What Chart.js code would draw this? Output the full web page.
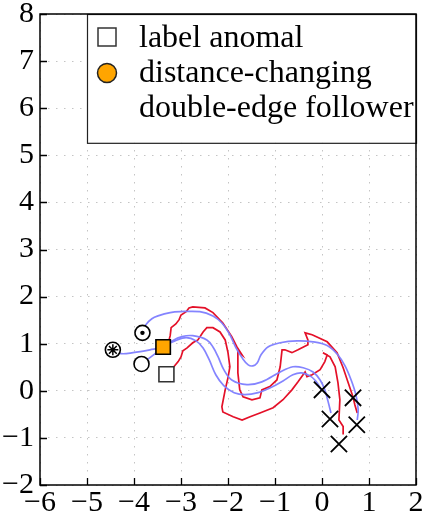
<!DOCTYPE html>
<html>
<head>
<meta charset="utf-8">
<script src="https://cdn.jsdelivr.net/npm/chart.js@4.4.1/dist/chart.umd.min.js"></script>
<style>
  html, body { margin: 0; padding: 0; background: #fff; overflow: hidden; }
  #wrap { width: 425px; height: 517px; position: relative; }
</style>
</head>
<body>
<div id="wrap"><canvas id="c"></canvas></div>
<script>
// ---- data ----
const xTicks = [-6, -5, -4, -3, -2, -1, 0, 1, 2];
const yTicks = [-2, -1, 0, 1, 2, 3, 4, 5, 6, 7, 8];

const blueTopX = [-3.82,-3.75,-3.62,-3.49,-3.23,-3.02,-2.60,-2.32,-2.13,-1.96,-1.83,-1.70,-1.57,-1.47,-1.38,-1.30,-1.15,-0.89,-0.53,-0.19,0.11,0.34,0.49,0.62,0.72,0.77,0.75];
const blueTopY = [1.23,1.40,1.53,1.59,1.66,1.68,1.68,1.59,1.44,1.19,0.91,0.70,0.55,0.53,0.59,0.76,0.93,1.02,1.06,1.04,0.96,0.76,0.53,0.23,-0.08,-0.40,-0.62];

const blueMidX = [-4.45,-4.28,-4.02,-3.66,-3.38,-3.19,-2.98,-2.75,-2.45,-2.32,-2.21,-2.09,-1.92,-1.60,-1.28,-0.89,-0.62,-0.40,-0.19,-0.04,0.06,0.13,0.19];
const blueMidY = [0.87,0.79,0.81,0.87,0.93,1.06,1.15,1.17,1.08,0.93,0.72,0.45,0.23,0.13,0.19,0.40,0.51,0.49,0.40,0.23,0.02,-0.23,-0.47];

const blueLowX = [-3.84,-3.55,-3.34,-3.13,-2.89,-2.68,-2.53,-2.40,-2.26,-2.09,-1.87,-1.64,-1.36,-1.11,-0.83,-0.62,-0.43,-0.23,-0.09,-0.02];
const blueLowY = [0.57,0.79,0.96,1.06,1.13,1.06,0.91,0.66,0.34,0.11,-0.04,-0.08,-0.04,0.06,0.21,0.34,0.38,0.30,0.15,0.02];

const redOuterX = [-3.28,-3.23,-3.21,-3.11,-3.04,-3.00,-2.89,-2.83,-2.75,-2.49,-2.32,-2.11,-1.92,-1.81,-1.70,-1.79,-1.79,-1.75,-1.68,-1.49,-1.32,-1.28,-1.11,-0.96,-0.89,-0.85,-0.79,-0.64,-0.51,-0.30,-0.30,-0.36,-0.21,0.11,0.32,0.45,0.55,0.66,0.70,0.75];
const redOuterY = [0.98,1.17,1.34,1.42,1.51,1.61,1.68,1.76,1.78,1.76,1.66,1.44,1.15,0.93,0.76,0.83,0.38,0.02,-0.13,-0.19,-0.15,0.02,0.09,0.23,0.51,0.87,0.87,0.81,0.87,0.98,1.08,1.23,1.19,1.04,0.81,0.49,0.19,-0.13,-0.30,-0.47];

const redInnerX = [-3.17,-3.06,-3.00,-2.96,-2.87,-2.75,-2.64,-2.53,-2.45,-2.32,-2.17,-2.06,-2.00,-1.96,-2.00,-2.06,-2.13,-2.11,-1.89,-1.70,-1.53,-1.32,-1.04,-0.83,-0.64,-0.51,-0.36,-0.32,-0.21,-0.04,0.06,0.11,0.02,0.17,0.28,0.34,0.38,0.36,0.45,0.45];
const redInnerY = [0.49,0.62,0.72,0.85,0.91,1.02,1.08,1.25,1.34,1.34,1.25,1.08,0.81,0.51,0.28,0.02,-0.34,-0.45,-0.55,-0.62,-0.55,-0.47,-0.36,-0.19,0.02,0.19,0.40,0.30,0.34,0.45,0.62,0.76,0.81,0.72,0.51,0.17,-0.19,-0.62,-0.76,-0.93];

const starCircle = { x: -4.45, y: 0.87 };
const dotCircle  = { x: -3.82, y: 1.23 };
const openCircle = { x: -3.84, y: 0.57 };
const orangeSquare = { x: -3.38, y: 0.93 };
const whiteSquare  = { x: -3.31, y: 0.35 };
const crossX = [0.00, 0.17, 0.66, 0.74, 0.36];
const crossY = [0.02, -0.60, -0.15, -0.72, -1.13];

const legendLabels = ['label anomal', 'distance-changing', 'double-edge follower'];
const legendBox = { x0: -5, x1: 2, y0: 8, y1: 5.265 };

// ---- helpers ----
const pts = (xs, ys) => xs.map((x, i) => ({ x: x, y: ys[i] }));
const BLUE = 'rgba(125,125,255,0.95)';
const RED = 'rgb(228,16,40)';
const SERIF = '"Liberation Serif"';
const fmt = v => (v < 0 ? '\u2212' + Math.abs(v) : String(v));

const lineDs = (xs, ys, color, tension) => ({
  type: 'line', data: pts(xs, ys), borderColor: color, borderWidth: 1.7,
  pointRadius: 0, pointHoverRadius: 0, fill: false, tension: tension, order: 2
});

const framePlugin = {
  id: 'frame',
  afterDatasetsDraw(chart) {
    const { ctx, chartArea: a, scales } = chart;
    ctx.save();
    ctx.strokeStyle = '#000';
    ctx.lineWidth = 1.3;
    ctx.beginPath();
    xTicks.forEach(v => {
      const px = Math.round(scales.x.getPixelForValue(v)) + 0.5;
      ctx.moveTo(px, a.bottom); ctx.lineTo(px, a.bottom - 7);
    });
    yTicks.forEach(v => {
      const py = Math.round(scales.y.getPixelForValue(v)) + 0.5;
      ctx.moveTo(a.left, py); ctx.lineTo(a.left + 7, py);
    });
    ctx.stroke();

    const lx0 = scales.x.getPixelForValue(legendBox.x0);
    const lx1 = scales.x.getPixelForValue(legendBox.x1);
    const ly0 = scales.y.getPixelForValue(legendBox.y0);
    const ly1 = scales.y.getPixelForValue(legendBox.y1);
    ctx.fillStyle = '#fff';
    ctx.fillRect(lx0, ly0, lx1 - lx0, ly1 - ly0);
    ctx.lineWidth = 1.2;
    ctx.strokeStyle = '#222';
    ctx.strokeRect(lx0 + 0.5, ly0 + 0.5, lx1 - lx0, ly1 - ly0);

    const mx = lx0 + 20;
    ctx.lineWidth = 1.5;
    ctx.strokeStyle = '#333';
    ctx.fillStyle = '#fff';
    ctx.fillRect(mx - 9, ly0 + 14, 18, 18);
    ctx.strokeRect(mx - 9, ly0 + 14, 18, 18);
    ctx.beginPath();
    ctx.arc(mx, ly0 + 59, 9.5, 0, Math.PI * 2);
    ctx.fillStyle = '#FFA500';
    ctx.fill();
    ctx.strokeStyle = '#222';
    ctx.stroke();

    ctx.fillStyle = '#000';
    ctx.font = '32px ' + SERIF;
    ctx.textAlign = 'left';
    ctx.textBaseline = 'alphabetic';
    const tx = lx0 + 52;
    ctx.fillText(legendLabels[0], tx, ly0 + 33);
    ctx.fillText(legendLabels[1], tx, ly0 + 68);
    ctx.fillText(legendLabels[2], tx, ly0 + 103);

    ctx.lineWidth = 1.5;
    ctx.strokeStyle = '#000';
    ctx.strokeRect(a.left, a.top, a.right - a.left, a.bottom - a.top);
    ctx.restore();
  }
};

new Chart(document.getElementById('c'), {
  type: 'scatter',
  data: {
    datasets: [
      { data: [starCircle, dotCircle, openCircle], pointStyle: 'circle', pointRadius: 7.5,
        pointBackgroundColor: '#fff', pointBorderColor: '#000', pointBorderWidth: 1.6, order: 1 },
      { data: [starCircle], pointStyle: 'star', pointRadius: 5.5, pointBorderColor: '#000',
        pointBorderWidth: 1.5, order: 0 },
      { data: [dotCircle], pointStyle: 'circle', pointRadius: 2.2, pointBackgroundColor: '#000',
        pointBorderColor: '#000', pointBorderWidth: 0, order: 0 },
      { data: [orangeSquare], pointStyle: 'rect', pointRadius: 10.2, pointBackgroundColor: '#FFA500',
        pointBorderColor: '#000', pointBorderWidth: 1.6, order: 0 },
      { data: [whiteSquare], pointStyle: 'rect', pointRadius: 10.6, pointBackgroundColor: '#fff',
        pointBorderColor: '#333', pointBorderWidth: 1.6, order: 0 },
      { data: pts(crossX, crossY), pointStyle: 'crossRot', pointRadius: 11.5,
        pointBorderColor: '#000', pointBorderWidth: 1.8, order: 0 },
      lineDs(blueTopX, blueTopY, BLUE, 0.35),
      lineDs(blueMidX, blueMidY, BLUE, 0.35),
      lineDs(blueLowX, blueLowY, BLUE, 0.35),
      lineDs(redOuterX, redOuterY, RED, 0),
      lineDs(redInnerX, redInnerY, RED, 0)
    ]
  },
  options: {
    responsive: true,
    maintainAspectRatio: false,
    animation: false,
    layout: { autoPadding: false, padding: { top: 14, right: 9, left: 0, bottom: 0 } },
    plugins: { legend: { display: false }, tooltip: { enabled: false } },
    scales: {
      x: {
        type: 'linear', min: -6, max: 2,
        afterBuildTicks: s => { s.ticks = xTicks.map(v => ({ value: v })); },
        afterFit: s => { s.height = 32; s.paddingLeft = 0; s.paddingRight = 0; },
        ticks: { font: { family: SERIF, size: 30 }, color: '#000', padding: 0,
                 maxRotation: 0, autoSkip: false, callback: v => fmt(v) },
        grid: { color: '#c4c4c4', lineWidth: 1, drawTicks: false, tickLength: 0 },
        border: { display: false, dash: [1.5, 6.5] }
      },
      y: {
        type: 'linear', min: -2, max: 8,
        afterBuildTicks: s => { s.ticks = yTicks.map(v => ({ value: v })); },
        afterFit: s => { s.width = 40; s.paddingTop = 0; s.paddingBottom = 0; },
        ticks: { font: { family: SERIF, size: 30 }, color: '#000', padding: 6,
                 autoSkip: false, callback: v => fmt(v) },
        grid: { color: '#c4c4c4', lineWidth: 1, drawTicks: false, tickLength: 0 },
        border: { display: false, dash: [1.5, 6.5] }
      }
    }
  },
  plugins: [framePlugin]
});
</script>
</body>
</html>
